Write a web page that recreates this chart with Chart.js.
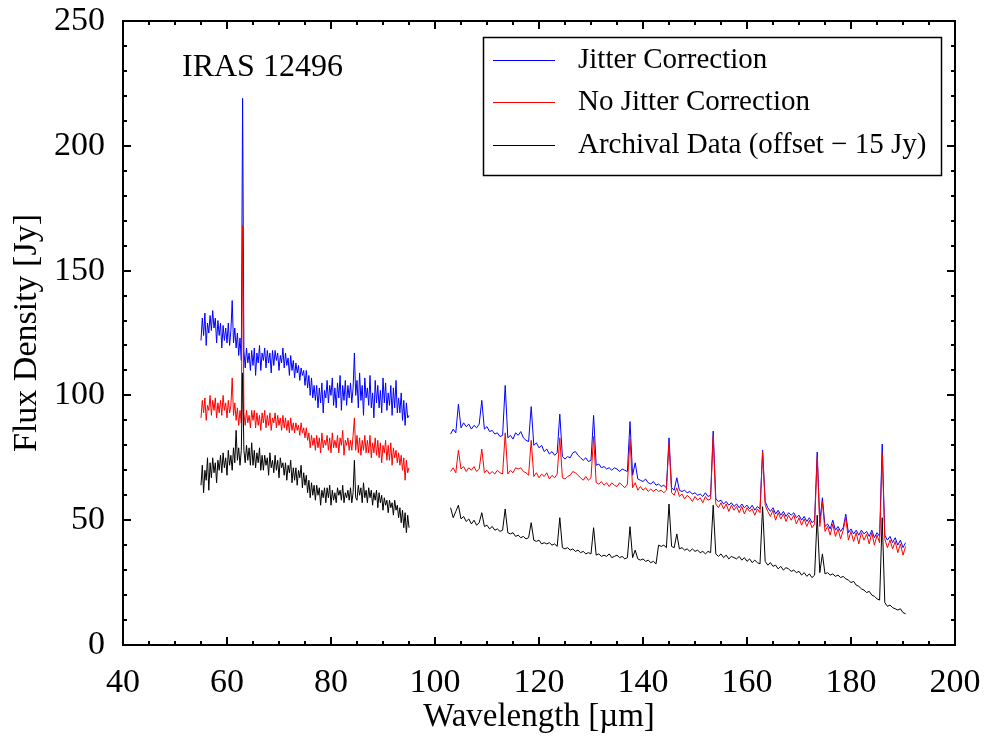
<!DOCTYPE html>
<html>
<head>
<meta charset="utf-8">
<script src="https://cdn.jsdelivr.net/npm/chart.js@4.4.1/dist/chart.umd.min.js"></script>
<style>
html,body{margin:0;padding:0;background:#fff;}
canvas{display:block;}
</style>
</head>
<body>
<canvas id="c" width="987" height="739"></canvas>
<script>
// ---------------- DATA ----------------
const seriesNames = ["Jitter Correction", "No Jitter Correction", "Archival Data (offset \u2212 15 Jy)"];
const targetLabel = "IRAS 12496";
const xTitle = "Wavelength [\u00b5m]";
const yTitle = "Flux Density [Jy]";

// wavelength grid, first spectrometer segment [µm]
const wlA = [55,55.25,55.5,55.75,56,56.25,56.5,56.75,
  57,57.25,57.5,57.75,58,58.25,58.5,58.75,
  59,59.25,59.5,59.75,60,60.25,60.5,60.75,
  61,61.25,61.5,61.75,62,62.25,62.5,62.75,
  63,
  63.25,63.5,63.75,64,64.25,64.5,64.75,
  65,65.25,65.5,65.75,66,66.25,66.5,66.75,
  67,67.25,67.5,67.75,68,68.25,68.5,68.75,
  69,69.25,69.5,69.75,70,70.25,70.5,70.75,
  71,71.25,71.5,71.75,72,72.25,72.5,72.75,
  73,73.25,73.5,73.75,74,74.25,74.5,74.75,
  75,75.25,75.5,75.75,76,76.25,76.5,76.75,
  77,77.25,77.5,77.75,78,78.25,78.5,78.75,
  79,79.25,79.5,79.75,80,80.25,80.5,80.75,
  81,81.25,81.5,81.75,82,82.25,82.5,82.75,
  83,83.25,83.5,83.75,84,84.25,84.5,84.75,
  85,85.25,85.5,85.75,86,86.25,86.5,86.75,
  87,87.25,87.5,87.75,88,88.25,88.5,88.75,
  89,89.25,89.5,89.75,90,90.25,90.5,90.75,
  91,91.25,91.5,91.75,92,92.25,92.5,92.75,
  93,93.25,93.5,93.75,94,94.25,94.5,94.75,
  95];
// wavelength grid, second spectrometer segment [µm]
const wlB = [103,103.5,104,104.5,105,105.5,106,106.5,107,107.5,
  108,108.5,109,109.5,110,110.5,111,111.5,112,112.5,
  113,113.5,114,114.5,115,115.5,116,116.5,117,117.5,
  118,118.5,119,119.5,120,120.5,121,121.5,122,122.5,
  123,123.5,124,124.5,125,125.5,126,126.5,127,127.5,
  128,128.5,129,129.5,130,130.5,131,131.5,132,132.5,
  133,133.5,134,134.5,135,135.5,136,136.5,137,137.5,
  138,138.5,139,139.5,140,140.5,141,141.5,142,142.5,
  143,143.5,144,144.5,145,145.5,146,146.5,147,147.5,
  148,148.5,149,149.5,150,150.5,151,151.5,152,152.5,
  153,153.5,154,154.5,155,155.5,156,156.5,157,157.5,
  158,158.5,159,159.5,160,160.5,161,161.5,162,162.5,
  163,163.5,164,164.5,165,165.5,166,166.5,167,167.5,
  168,168.5,169,169.5,170,170.5,171,171.5,172,172.5,
  173,173.5,174,174.5,175,175.5,176,176.5,177,177.5,
  178,178.5,179,179.5,180,180.5,181,181.5,182,182.5,
  183,183.5,184,184.5,185,185.5,186,186.5,187,187.5,
  188,188.5,189,189.5,190,190.5];

// Jitter Correction [Jy]
const jitterA = [122,131,124,133,120,129,125,132,
  126,134,127,131,121,130,124,129,
  119,128,122,127,121,129,120,126,
  138,121,127,119,125,116,123,114,
  219,
  118,111,119,113,117,110,118,
  112,119,108,117,113,120,110,117,
  114,119,111,118,113,117,109,118,
  112,118,114,117,110,116,113,119,
  111,117,112,115,108,116,110,114,
  107,113,109,112,106,111,108,110,
  104,110,103,108,100,107,99,104,
  98,104,95,103,97,105,93,102,
  99,106,97,104,100,107,96,103,
  95,105,99,108,94,104,98,106,
  96,104,99,105,97,103,117,100,
  106,95,109,98,104,92,107,99,
  103,96,108,95,101,91,106,97,
  104,95,102,93,107,97,105,94,
  101,96,104,92,103,95,106,93,
  99,93,101,90,98,88,97,91,
  92];
const jitterB = [84.5,86.5,85,96.5,87,89,87.5,88.5,86.5,88,
  87,88.5,98,86.5,87.5,85.5,86,84.5,85,83.5,
  84,104,83,84,82.5,85,84,85.5,83,82,
  81.5,95.5,80,81,79,80,77.5,78.5,76.5,77.5,
  76,77,92.5,75.5,74.5,75.5,75,77,77.5,76,
  75,74,75,73.5,74,92,72,72.5,71,71.5,
  70.5,71,70,71,70.5,69.5,70.5,70,69.5,89.5,
  68,73,66.5,66,65.5,66.5,65,64.5,65.5,64,
  64.5,63.5,64,63,83,63,62,67,62,61.5,
  62,61,61.5,60.5,61,60,60.5,59.5,61,59.5,
  60,85.7,58.5,57.5,58,56.5,57.5,56,57,55.5,
  56.5,55,56.5,55,56,54.5,56,54,55.5,54.5,
  78,57.5,55,53.5,55,52.5,54,52,53.5,51.5,
  53,52,53,51,52,50,51.5,49.5,51,49,
  50,77.3,49,59,47.5,48.5,46.5,50,46,47.5,
  45.5,47,52.4,45,46.5,44.5,46,44,46,44.5,
  45.5,43.5,46,43,45,43.5,80.5,44,42,43.5,
  41,43,40,42,39,41];

// No Jitter Correction [Jy]
const noJitterA = [91,98,93,99,90,96,94,100,
  92,98,94,99,91,97,93,98,
  92,100,94,97,91,98,93,96,
  107,92,97,90,95,88,94,89,
  168,
  93,88,94,89,92,87,94,
  90,94,87,93,88,92,86,93,
  89,94,87,92,88,93,86,91,
  89,93,87,92,88,91,86,92,
  87,91,86,90,85,91,86,89,
  85,89,86,88,84,89,85,87,
  83,87,82,85,79,84,80,83,
  78,84,79,83,77,85,79,82,
  80,84,78,83,77,85,79,82,
  79,84,77,83,80,86,76,82,
  80,83,78,82,78,84,91,78,
  84,77,83,76,82,78,84,77,
  82,77,84,75,81,77,83,76,
  82,75,81,73,80,77,82,74,
  80,74,81,72,79,75,78,73,
  77,72,76,70,75,66,74,69,
  71];
const noJitterB = [69.5,71,69,78,70.5,71.5,69.5,71,70,71.5,
  69.5,70.5,78.5,69,70,68.5,69.5,68.5,70,69,
  68.5,85,68.5,70,69,71,70.5,71,69.5,69,
  68,82,67.5,69,67,68.5,67.5,69,66.5,68,
  67,68.5,83,67,66.5,67.5,68,69.5,69,68,
  67,66,67.5,66,67,83.5,65,64.5,65.5,64,
  65,63.5,65,64,63.5,65,64,63,64.5,82.5,
  63,65,62,63.5,62,63,61.5,62.5,61.5,62.5,
  61.5,62,61,62,81,61,60,63,59.5,60.5,
  58.5,60,59,57.5,59.5,58,59,57,59.5,58,
  58.5,84,56.5,55,57,54.5,56.5,53.5,56,54,
  55.5,53,55.5,52.5,55,53.5,54.5,52,54.5,53,
  77.5,56,53.5,51.5,54,50,53,50.5,52.5,49.5,
  52,50,52,48.5,51,48,50.5,47.5,50,47,
  48.5,75.4,47.5,57.4,45.5,47.5,44,48.5,43.5,46.5,
  42.5,46,51,42,45.5,41.5,45,40.5,45,42,
  44.5,40.5,45,40,44,41,77,42.5,39,42,
  38.5,41.5,37,40.5,36,39.5];

// Archival Data, offset -15 Jy [Jy]
const archivalA = [64,72,61,70,66,75,62,73,
  67,75,69,73,65,74,70,76,
  69,77,71,75,68,78,72,76,
  70,79,73,86,74,79,72,78,
  109,
  78,73,80,74,79,72,81,
  72,78,71,77,73,79,70,76,
  70,76,72,75,68,77,71,74,
  69,76,70,74,67,75,71,73,
  68,73,66,72,69,74,65,71,
  66,71,64,70,67,72,63,69,
  64,68,61,66,59,65,60,64,
  58,64,60,63,56,62,59,63,
  57,63,59,64,56,62,58,61,
  57,63,60,62,58,64,57,61,
  59,62,58,63,57,61,74,59,
  58,64,60,63,57,65,59,62,
  57,63,59,62,56,61,58,62,
  55,61,57,60,54,59,56,58,
  53,58,55,57,52,58,54,56,
  51,55,49,54,47,53,45,52,
  47];
const archivalB = [55,51,53.5,56,50.5,51.5,49.5,50.5,48.5,50,
  48,49,53,47.5,48,46.5,47.5,46,46.5,45.5,
  46,54.5,45,44.5,45,43.5,44,43,43.5,42.5,
  43,49,42,41.5,42,40.5,41,40.5,41,40,
  40.5,39.5,51,39,38.5,39,38,38.5,37.5,38,
  37,37.5,36.5,37,36.5,47,36,36.5,35.5,36,
  35.5,36.5,35,35.5,36,35,35.5,34.5,35,47.4,
  35,38,34.5,34,34.5,33.5,34,33,33.5,32.5,
  40,39.5,40,39,56.5,39.5,39,44.5,38.5,39,
  38,38.5,37.5,38.5,37.5,38,37,37.5,36.5,37.5,
  37,56,36.5,35.5,36.5,35,36,34.5,35.5,35,
  34.5,35.5,34,35,33.5,34.5,33,34,33,32.5,
  55.4,33.5,32,33,31.5,32,30.5,31.5,30,31,
  30.5,29.5,30,29,29.5,28,29,27.5,28.5,27,
  28,52,29,36.5,28.5,29,28,28.5,27.5,28,
  27,27.5,26.5,26,25,25.5,24,23.5,22.5,22,
  21,21.5,20,19.5,18.5,18,51,17,15.5,16,
  15,14.5,14,14.5,13,12.5];

// axis ranges / tick labels
const xRange = [40, 200];
const yRange = [0, 250];
const xTickLabels = [40, 60, 80, 100, 120, 140, 160, 180, 200];
const yTickLabels = [0, 50, 100, 150, 200, 250];

// ---------------- BUILD ----------------
const GAP_X = 99;
function buildSeries(a, b) {
  const pts = wlA.map((x, i) => ({x: x, y: a[i]}));
  pts.push({x: GAP_X, y: null});
  wlB.forEach((x, i) => pts.push({x: x, y: b[i]}));
  return pts;
}
const colors = ['#0000ff', '#ff0000', '#000000'];
const FONT = '"Liberation Serif", "Times New Roman", serif';

const framePlugin = {
  id: 'frame',
  afterDraw(chart) {
    const ctx = chart.ctx;
    const a = chart.chartArea;
    const xs = chart.scales.x, ys = chart.scales.y;
    ctx.save();
    ctx.strokeStyle = '#000';
    ctx.lineWidth = 2;
    ctx.strokeRect(a.left, a.top, a.right - a.left, a.bottom - a.top);
    ctx.beginPath();
    for (let v = xRange[0]; v <= xRange[1] + 1e-9; v += 5) {
      const px = Math.round(xs.getPixelForValue(v));
      const len = (v % 20 === 0) ? 8 : 4;
      ctx.moveTo(px, a.bottom); ctx.lineTo(px, a.bottom - len);
      ctx.moveTo(px, a.top); ctx.lineTo(px, a.top + len);
    }
    for (let v = yRange[0]; v <= yRange[1] + 1e-9; v += 10) {
      const py = Math.round(ys.getPixelForValue(v));
      const len = (v % 50 === 0) ? 8 : 4;
      ctx.moveTo(a.left, py); ctx.lineTo(a.left + len, py);
      ctx.moveTo(a.right, py); ctx.lineTo(a.right - len, py);
    }
    ctx.stroke();

    // target label
    ctx.fillStyle = '#000';
    ctx.font = '32px ' + FONT;
    ctx.textBaseline = 'middle';
    ctx.textAlign = 'left';
    ctx.fillText(targetLabel, 182, 68);

    // legend
    ctx.lineWidth = 1.5;
    ctx.strokeRect(483.5, 37.5, 458, 138);
    const rows = [60, 102, 145];
    ctx.font = '29px ' + FONT;
    for (let i = 0; i < 3; i++) {
      ctx.strokeStyle = colors[i];
      ctx.lineWidth = 1;
      ctx.beginPath();
      ctx.moveTo(493, rows[i] + 0.5); ctx.lineTo(555, rows[i] + 0.5);
      ctx.stroke();
      ctx.fillStyle = '#000';
      ctx.fillText(seriesNames[i], 578, rows[i]);
    }
    ctx.restore();
  }
};

new Chart(document.getElementById('c'), {
  type: 'line',
  data: {
    datasets: [
      {label: seriesNames[0], data: buildSeries(jitterA, jitterB), borderColor: colors[0], order: 3},
      {label: seriesNames[1], data: buildSeries(noJitterA, noJitterB), borderColor: colors[1], order: 2},
      {label: seriesNames[2], data: buildSeries(archivalA, archivalB), borderColor: colors[2], order: 1}
    ].map(d => Object.assign(d, {borderWidth: 1, pointRadius: 0, tension: 0, spanGaps: false, fill: false}))
  },
  options: {
    responsive: false,
    animation: false,
    devicePixelRatio: 1,
    layout: {padding: {top: 21, right: 32, left: 0, bottom: 0}},
    plugins: {legend: {display: false}, tooltip: {enabled: false}},
    scales: {
      x: {
        type: 'linear', min: xRange[0], max: xRange[1],
        afterBuildTicks: s => { s.ticks = xTickLabels.map(v => ({value: v})); },
        ticks: {color: '#000', font: {family: FONT, size: 34}, padding: 18, maxRotation: 0, autoSkip: false},
        grid: {display: false, drawTicks: false},
        border: {display: false},
        title: {display: true, text: xTitle, color: '#000', font: {family: FONT, size: 33}, padding: {top: 0, bottom: 2}},
        afterFit: s => { s.height = 94; s.paddingLeft = 0; s.paddingRight = 0; }
      },
      y: {
        type: 'linear', min: yRange[0], max: yRange[1],
        afterBuildTicks: s => { s.ticks = yTickLabels.map(v => ({value: v})); },
        ticks: {color: '#000', font: {family: FONT, size: 34}, padding: 18, autoSkip: false},
        grid: {display: false, drawTicks: false},
        border: {display: false},
        title: {display: true, text: yTitle, color: '#000', font: {family: FONT, size: 34}, padding: {top: 7, bottom: 0}},
        afterFit: s => { s.width = 123; s.paddingTop = 0; s.paddingBottom = 0; }
      }
    }
  },
  plugins: [framePlugin]
});
</script>
</body>
</html>
